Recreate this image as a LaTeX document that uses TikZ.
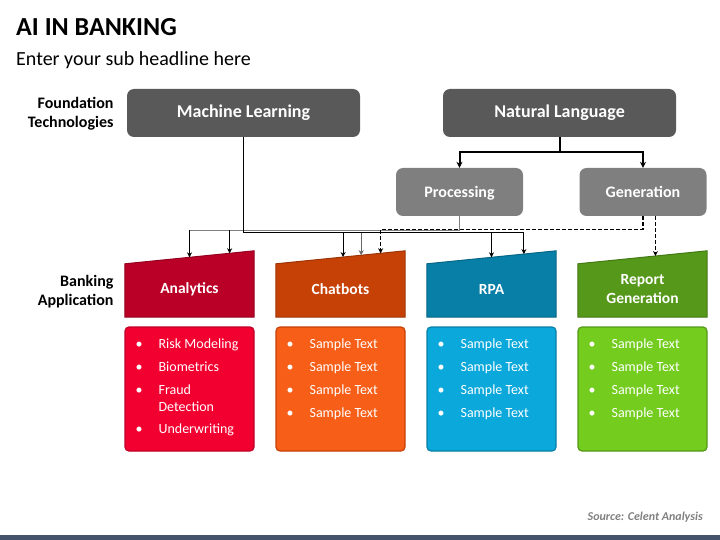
\documentclass[tikz,border=0pt]{standalone}
\usepackage{fontspec}
\setmainfont{Carlito}
\usepackage{tikz}
\usetikzlibrary{arrows.meta,positioning,calc,backgrounds}
\definecolor{mlgray}{RGB}{89,89,89}
\definecolor{subgray}{RGB}{127,127,127}
\definecolor{red1}{RGB}{187,0,40}
\definecolor{red2}{RGB}{242,0,48}
\definecolor{orange1}{RGB}{197,65,6}
\definecolor{orange2}{RGB}{247,94,24}
\definecolor{blue1}{RGB}{8,127,166}
\definecolor{blue2}{RGB}{11,168,219}
\definecolor{green1}{RGB}{85,152,26}
\definecolor{green2}{RGB}{115,204,30}
\definecolor{bar1}{RGB}{68,84,106}
\definecolor{src1}{RGB}{128,128,128}
\newcommand\bitems[1]{{\fontsize{14}{17}\selectfont\begin{tabular}[t]{@{}p{23pt}@{}p{86pt}@{}}#1\end{tabular}}}
\def\sample{\textbullet & Sample Text\\[6pt]\textbullet & Sample Text\\[6pt]\textbullet & Sample Text\\[6pt]\textbullet & Sample Text}

\begin{document}
\begin{tikzpicture}[x=1pt,y=-1pt,
    found/.style={rounded corners=7pt, fill=mlgray, text=white, font=\fontsize{18}{21}\selectfont\bfseries, minimum width=233pt, minimum height=48pt},
    subtech/.style={found, fill=subgray, minimum width=127pt, font=\fontsize{16}{19}\selectfont\bfseries, text height=11pt, text depth=1pt},
    apphead/.style={text=white, font=\fontsize{15.5}{19}\selectfont\bfseries, minimum width=129pt, minimum height=55pt, align=center, inner sep=0pt},
    appbox/.style={rounded corners=4pt, line width=1.2pt, minimum width=129pt, minimum height=124pt},
    sidelabel/.style={align=right, anchor=east, font=\fontsize{16}{19}\selectfont\bfseries},
    bullets/.style={anchor=north west, inner sep=0pt, text=white},
    conn/.style={-{Stealth[length=5pt,width=5pt]}, line width=0.9pt},
    thickconn/.style={-{Stealth[length=6pt,width=6pt]}, line width=2pt},
    dashconn/.style={-{Stealth[length=5pt,width=5pt]}, line width=1.7pt, dash pattern=on 4pt off 2pt}
]
    \useasboundingbox (0,0) rectangle (720,540);

    \node[anchor=base west, inner sep=0pt, font=\fontsize{26}{30}\selectfont\bfseries, name=title] at(16,36) {AI IN BANKING};
    \node[anchor=base west, inner sep=0pt, font=\fontsize{20}{24}\selectfont, name=subtitle] at(16,66) {Enter your sub headline here};

    \node[sidelabel, name=foundlbl] at(117,114) {Foundation\\Technologies};
    \node[sidelabel, name=banklbl] at(117,292) {Banking\\Application};

    \node[found, name=ml] at(243.5,113) {Machine Learning};
    \node[found, name=nl] at(559.5,113) {Natural Language};
    \node[subtech, name=proc] at(459.5,192) {Processing};
    \node[subtech, name=gen] at(643,192) {Generation};

    \node[apphead, name=ana] at(189.5,289.5) {Analytics};
    \node[apphead, name=cha] at(340.5,289.5) {Chatbots};
    \node[apphead, name=rpa] at(491.5,289.5) {RPA};
    \node[apphead, name=rep] at(642.5,289.5) {Report\\Generation};

    \foreach \n in {ana,cha,rpa,rep}{
        \coordinate (\n L) at ([yshift=-2pt]\n.north west);
        \coordinate (\n R) at ([yshift=11pt]\n.north east);
    }

    \begin{scope}[on background layer]
        \draw[fill=red1, draw=red1!80!black, line width=1pt] (ana.south west) -- (anaL) -- (anaR) -- (ana.south east) -- cycle;
        \draw[fill=orange1, draw=orange1!80!black, line width=1pt] (cha.south west) -- (chaL) -- (chaR) -- (cha.south east) -- cycle;
        \draw[fill=blue1, draw=blue1!80!black, line width=1pt] (rpa.south west) -- (rpaL) -- (rpaR) -- (rpa.south east) -- cycle;
        \draw[fill=green1, draw=green1!80!black, line width=1pt] (rep.south west) -- (repL) -- (repR) -- (rep.south east) -- cycle;
    \end{scope}

    \node[appbox, fill=red2, draw=red1!90!red2, name=anabox] at(189.5,389) {};
    \node[appbox, fill=orange2, draw=orange1, name=chabox] at(340.5,389) {};
    \node[appbox, fill=blue2, draw=blue1, name=rpabox] at(491.5,389) {};
    \node[appbox, fill=green2, draw=green1, name=repbox] at(642.5,389) {};

    \node[bullets, name=analist] at([xshift=11pt,yshift=-10pt]anabox.north west) {\bitems{\textbullet & Risk Modeling\\[6pt]\textbullet & Biometrics\\[6pt]\textbullet & Fraud\newline Detection\\[5pt]\textbullet & Underwriting}};
    \node[bullets, name=chalist] at([xshift=11pt,yshift=-10pt]chabox.north west) {\bitems{\sample}};
    \node[bullets, name=rpalist] at([xshift=11pt,yshift=-10pt]rpabox.north west) {\bitems{\sample}};
    \node[bullets, name=replist] at([xshift=11pt,yshift=-10pt]repbox.north west) {\bitems{\sample}};

    % arrow targets on the slanted tops
    \coordinate (anaA) at ($(anaL)!0.5!(anaR)$);
    \coordinate (anaB) at ($(anaL)!0.81!(anaR)$);
    \coordinate (chaA) at ($(chaL)!0.52!(chaR)$);
    \coordinate (chaB) at ($(chaL)!0.66!(chaR)$);
    \coordinate (chaC) at ($(chaL)!0.81!(chaR)$);
    \coordinate (rpaA) at ($(rpaL)!0.5!(rpaR)$);
    \coordinate (rpaB) at ($(rpaL)!0.75!(rpaR)$);
    \coordinate (repA) at ($(repL)!0.6!(repR)$);

    \coordinate (nlbus) at (nl.south |- 0,152);
    \coordinate (pbus) at (0,230.5);
    \coordinate (bus) at (ml.south |- 0,232.5);
    \coordinate (dbus) at (0,229.5);

    \draw[line width=2pt] (nl.south) -- (nlbus);
    \draw[thickconn] (nlbus) -| (proc.north);
    \draw[thickconn] (nlbus) -| (gen.north);

    \draw[src1, line width=0.9pt] (proc.south) -- (proc.south |- pbus) -- (anaA |- pbus);
    \draw[line width=0.9pt] (ml.south) -- (bus) -- (rpaB |- bus);
    \draw[conn] (anaA |- pbus) -- (anaA);
    \draw[conn] (anaB |- pbus) -- (anaB);
    \draw[conn] (chaA |- bus) -- (chaA);
    \draw[conn, black!60] (chaB |- bus) -- (chaB);
    \draw[conn] (rpaA |- bus) -- (rpaA);
    \draw[conn] (rpaB |- bus) -- (rpaB);

    \draw[dashconn] (gen.south) -- (gen.south |- dbus) -- (chaC |- dbus) -- (chaC);
    \draw[dashconn] (repA |- gen.south) -- (repA);

    \node[anchor=base east, inner sep=0pt, text=src1, font=\fontsize{12}{14}\selectfont\bfseries\itshape, name=source] at(703,520) {Source: Celent Analysis};
    \fill[bar1] (0,535) rectangle (720,540);
\end{tikzpicture}
\end{document}
